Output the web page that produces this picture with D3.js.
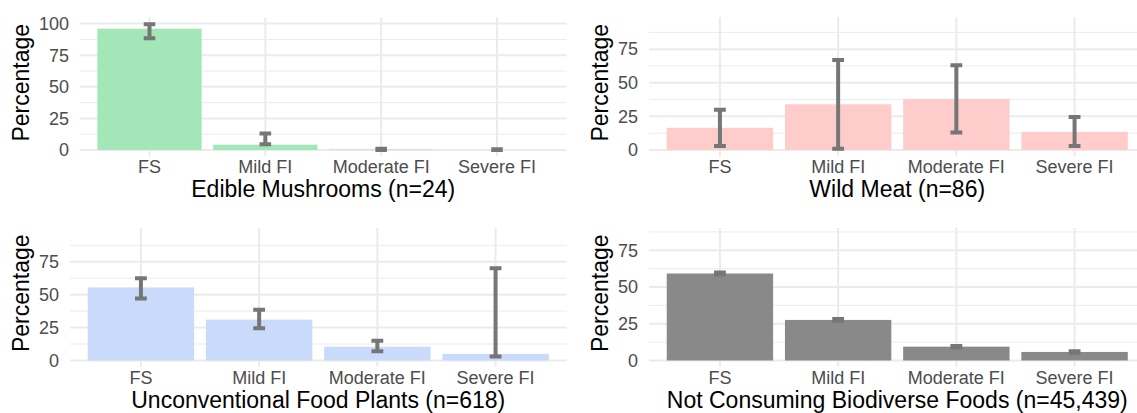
<!DOCTYPE html>
<html lang="en">
<head>
  <meta charset="utf-8" />
  <style>
    body { margin: 0; background: #fff; }
    svg { display: block; font-family: "Liberation Sans", Arial, sans-serif; }
    .grid-major { stroke: #ebebeb; stroke-width: 2px; }
    .grid-minor { stroke: #ebebeb; stroke-width: 1px; }
    .tick-label { fill: #4d4d4d; font-size: 18px; }
    .axis-title { fill: #000; font-size: 23px; }
    .err { stroke: #767676; stroke-width: 4px; fill: none; }
  </style>
</head>
<body>
<svg width="1137" height="413"></svg>
<script src="https://d3js.org/d3.v7.min.js"></script>
<script>
var categories = ["FS", "Mild FI", "Moderate FI", "Severe FI"];

var titles = [
  "Edible Mushrooms (n=24)",
  "Wild Meat (n=86)",
  "Unconventional Food Plants (n=618)",
  "Not Consuming Biodiverse Foods (n=45,439)"
];

var mushroomPct  = [96, 4.2, 0.4, 0];
var mushroomLow  = [88.5, 4.5, 0, 0];
var mushroomHigh = [99.5, 13, 1, 0.6];

var meatPct  = [16.5, 34, 38, 13.5];
var meatLow  = [3, 1, 13, 3];
var meatHigh = [30, 67, 63, 24.5];

var plantPct  = [55.5, 31, 10.5, 5];
var plantLow  = [47, 24.5, 7, 3];
var plantHigh = [62.5, 38.5, 15, 70];

var nonePct  = [59.2, 27.6, 9.4, 5.8];
var noneLow  = [58.6, 27, 8.9, 5.3];
var noneHigh = [59.9, 28.3, 9.9, 6.3];

var ticksFull = [0, 25, 50, 75, 100];
var ticksShort = [0, 25, 50, 75];
var yLimits = [100, 94, 96, 86];

var barColors = ["#a3e6b8", "#ffcccc", "#c9dafa", "#898989"];

var panels = [
  { pct: mushroomPct, low: mushroomLow, high: mushroomHigh, ticks: ticksFull },
  { pct: meatPct, low: meatLow, high: meatHigh, ticks: ticksShort },
  { pct: plantPct, low: plantLow, high: plantHigh, ticks: ticksShort },
  { pct: nonePct, low: noneLow, high: noneHigh, ticks: ticksShort }
];

var svg = d3.select("svg"),
    colWidth = 579,
    rowHeight = 210.5,
    panelTop = 17.3,
    panelBottom = 156.3,
    panelRight = 566.5;

panels.forEach(function(p, i) {
  var col = i % 2,
      row = Math.floor(i / 2),
      left = i === 0 ? 80 : 70,
      g = svg.append("g")
        .attr("transform", "translate(" + (col * colWidth) + "," + (row * rowHeight) + ")");

  var lim = yLimits[i];
  var y = d3.scaleLinear()
    .domain([-0.05 * lim, 1.05 * lim])
    .range([panelBottom, panelTop]);

  // discrete x: 0.6 unit expansion on each side, bars 0.9 wide
  var x = d3.scalePoint()
    .domain(categories)
    .range([left, panelRight])
    .padding(0.6);
  var step = x.step();
  var barW = step * 0.9;

  // minor gridlines halfway between major ticks
  var minor = d3.range(12.5, 1.05 * lim, 25);
  g.selectAll(".grid-minor")
    .data(minor)
    .enter().append("line")
    .attr("class", "grid-minor")
    .attr("x1", left).attr("x2", panelRight)
    .attr("y1", y).attr("y2", y);

  g.selectAll(".grid-hmajor")
    .data(p.ticks)
    .enter().append("line")
    .attr("class", "grid-major")
    .attr("x1", left).attr("x2", panelRight)
    .attr("y1", y).attr("y2", y);

  g.selectAll(".grid-vmajor")
    .data(categories)
    .enter().append("line")
    .attr("class", "grid-major")
    .attr("x1", x).attr("x2", x)
    .attr("y1", panelTop).attr("y2", panelBottom);

  // bars
  g.selectAll(".bar")
    .data(categories)
    .enter().append("rect")
    .attr("class", "bar")
    .attr("x", function(c) { return x(c) - barW / 2; })
    .attr("width", barW)
    .attr("y", function(c, j) { return y(p.pct[j]); })
    .attr("height", function(c, j) { return y(0) - y(p.pct[j]); })
    .attr("fill", barColors[i]);

  // error bars
  var capHalf = step * 0.05;
  g.selectAll(".errbar")
    .data(categories)
    .enter().append("path")
    .attr("class", "err")
    .attr("d", function(c, j) {
      var xc = x(c), y1 = y(p.high[j]), y0 = y(p.low[j]);
      return "M" + (xc - capHalf) + "," + y1 + "H" + (xc + capHalf) +
             "M" + xc + "," + y1 + "V" + y0 +
             "M" + (xc - capHalf) + "," + y0 + "H" + (xc + capHalf);
    });

  // y tick labels
  g.selectAll(".ylab")
    .data(p.ticks)
    .enter().append("text")
    .attr("class", "tick-label")
    .attr("x", left - 11)
    .attr("y", y)
    .attr("dy", "0.35em")
    .attr("text-anchor", "end")
    .text(function(d) { return d; });

  // x tick labels
  g.selectAll(".xlab")
    .data(categories)
    .enter().append("text")
    .attr("class", "tick-label")
    .attr("x", x)
    .attr("y", panelBottom + 17)
    .attr("text-anchor", "middle")
    .text(function(d) { return d; });

  // axis titles
  g.append("text")
    .attr("class", "axis-title")
    .attr("transform", "translate(28.5," + ((panelTop + panelBottom) / 2 - 4) + ") rotate(-90)")
    .attr("text-anchor", "middle")
    .text("Percentage");

  g.append("text")
    .attr("class", "axis-title")
    .attr("x", (left + panelRight) / 2)
    .attr("y", panelBottom + 41)
    .attr("text-anchor", "middle")
    .text(titles[i]);
});
</script>
</body>
</html>
